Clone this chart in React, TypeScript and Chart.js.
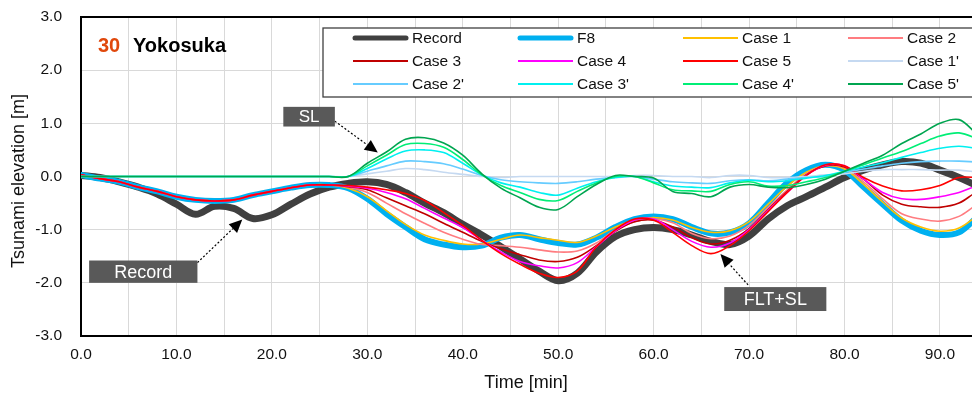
import { useEffect, useRef } from "react";
import { Chart, registerables } from "chart.js";

Chart.register(...registerables);

// ---- data (minutes, metres) ----
const TIME = [0, 2, 4, 6, 8, 10, 12, 14, 16, 18, 20, 22, 24, 26, 28, 30, 32, 34, 36, 38, 40, 42, 44, 46, 48, 50,
  52, 54, 56, 58, 60, 62, 64, 66, 68, 70, 72, 74, 76, 78, 80, 82, 84, 86, 88, 90, 92, 94, 96, 98, 100];

const RECORD = [0.02, -0.02, -0.1, -0.2, -0.33, -0.52, -0.71, -0.56, -0.6, -0.79, -0.72, -0.52, -0.33, -0.2, -0.13,
  -0.1, -0.15, -0.3, -0.5, -0.68, -0.9, -1.1, -1.32, -1.55, -1.78, -1.96, -1.82, -1.42, -1.13, -1.0, -0.96, -1.0,
  -1.1, -1.22, -1.28, -1.12, -0.8, -0.55, -0.38, -0.2, -0.02, 0.12, 0.22, 0.28, 0.25, 0.12, -0.02, -0.18, -0.32,
  -0.42, -0.5];

const F8 = [0.03, -0.04, -0.1, -0.2, -0.28, -0.38, -0.44, -0.46, -0.44, -0.35, -0.28, -0.21, -0.16, -0.16, -0.22,
  -0.42, -0.7, -0.95, -1.18, -1.28, -1.33, -1.3, -1.15, -1.1, -1.18, -1.25, -1.28, -1.15, -0.95, -0.8, -0.75, -0.8,
  -0.95, -1.07, -1.05, -0.88, -0.5, -0.12, 0.12, 0.22, 0.12, -0.2, -0.52, -0.83, -1.02, -1.1, -1.05, -0.75, -0.5,
  -0.35, -0.25];

const CASE_1 = [0.03, -0.04, -0.1, -0.2, -0.28, -0.38, -0.44, -0.46, -0.44, -0.35, -0.28, -0.21, -0.16, -0.16, -0.22,
  -0.38, -0.64, -0.9, -1.1, -1.2, -1.27, -1.27, -1.18, -1.1, -1.15, -1.2, -1.24, -1.12, -0.95, -0.82, -0.77, -0.82,
  -0.96, -1.05, -1.02, -0.85, -0.52, -0.18, 0.08, 0.2, 0.14, -0.15, -0.48, -0.78, -0.95, -1.03, -0.97, -0.73, -0.5,
  -0.35, -0.25];

const CASE_2 = [0.03, -0.04, -0.1, -0.2, -0.28, -0.38, -0.44, -0.46, -0.44, -0.35, -0.28, -0.21, -0.16, -0.16, -0.2,
  -0.3, -0.5, -0.7, -0.88, -1.05, -1.18, -1.28, -1.3, -1.33, -1.38, -1.42, -1.4, -1.25, -1.0, -0.85, -0.8, -0.87,
  -1.07, -1.17, -1.12, -0.92, -0.58, -0.25, 0.05, 0.2, 0.17, -0.1, -0.42, -0.7, -0.8, -0.84, -0.75, -0.52, -0.4,
  -0.3, -0.22];

const CASE_3 = [0.03, -0.04, -0.1, -0.2, -0.28, -0.38, -0.44, -0.46, -0.44, -0.35, -0.28, -0.21, -0.16, -0.16, -0.19,
  -0.25, -0.4, -0.55, -0.7, -0.88, -1.05, -1.22, -1.36, -1.47, -1.57, -1.6, -1.52, -1.3, -1.03, -0.85, -0.82, -0.95,
  -1.15, -1.27, -1.2, -0.98, -0.62, -0.28, 0.03, 0.2, 0.18, -0.05, -0.35, -0.52, -0.57, -0.58, -0.5, -0.28, -0.2,
  -0.15, -0.12];

const CASE_4 = [0.03, -0.04, -0.1, -0.2, -0.28, -0.38, -0.44, -0.46, -0.44, -0.35, -0.28, -0.21, -0.16, -0.16, -0.18,
  -0.22, -0.3, -0.42, -0.6, -0.78, -0.96, -1.2, -1.42, -1.6, -1.68, -1.72, -1.62, -1.32, -1.02, -0.82, -0.8, -1.0,
  -1.22, -1.33, -1.25, -1.0, -0.64, -0.3, 0.02, 0.21, 0.2, -0.05, -0.3, -0.42, -0.43, -0.38, -0.3, -0.17, -0.1,
  -0.08, -0.05];

const CASE_5 = [0.03, -0.04, -0.1, -0.2, -0.28, -0.38, -0.44, -0.46, -0.44, -0.35, -0.28, -0.21, -0.16, -0.16, -0.17,
  -0.2, -0.25, -0.32, -0.45, -0.68, -0.92, -1.2, -1.45, -1.65, -1.82, -1.9, -1.78, -1.32, -1.0, -0.8, -0.82, -1.05,
  -1.3, -1.45, -1.3, -1.02, -0.66, -0.3, 0.02, 0.22, 0.2, -0.02, -0.18, -0.27, -0.25, -0.17, -0.02, -0.02, 0.0,
  0.0, 0.0];

const CASE_1P = [0, 0, 0, 0, 0, 0, 0, 0, 0, 0, 0, 0, 0, 0, 0,
  0.05, 0.1, 0.15, 0.13, 0.08, 0.04, 0.0, -0.02, 0.0, 0.0, 0.0, 0.0, 0.0, 0.0, 0.02, 0.02, 0.0,
  0.0, -0.02, 0.02, 0.02, -0.02, -0.02, 0.0, 0.03, 0.05, 0.1, 0.13, 0.13, 0.13, 0.12, 0.12, 0.08, 0.05,
  0.03, 0.02];

const CASE_2P = [0, 0, 0, 0, 0, 0, 0, 0, 0, 0, 0, 0, 0, 0, 0,
  0.1, 0.2, 0.29, 0.28, 0.24, 0.14, 0.02, -0.06, -0.1, -0.12, -0.13, -0.1, -0.05, -0.02, 0.0, -0.05, -0.1,
  -0.12, -0.13, -0.08, -0.06, -0.08, -0.05, -0.02, 0.0, 0.08, 0.14, 0.2, 0.25, 0.28, 0.29, 0.29, 0.27, 0.22,
  0.18, 0.15];

const CASE_3P = [0, 0, 0, 0, 0, 0, 0, 0, 0, 0, 0, 0, 0, 0, 0,
  0.15, 0.33, 0.48, 0.5, 0.45, 0.25, 0.03, -0.12, -0.2, -0.3, -0.35, -0.22, -0.1, -0.02, 0.0, -0.1, -0.18,
  -0.2, -0.21, -0.12, -0.07, -0.1, -0.08, -0.03, 0.02, 0.1, 0.18, 0.26, 0.36, 0.45, 0.53, 0.57, 0.52, 0.42,
  0.32, 0.22];

const CASE_4P = [0, 0, 0, 0, 0, 0, 0, 0, 0, 0, 0, 0, 0, 0, 0,
  0.2, 0.4, 0.6, 0.62, 0.55, 0.32, 0.03, -0.17, -0.3, -0.43, -0.45, -0.28, -0.12, 0.0, 0.0, -0.12, -0.25,
  -0.27, -0.28, -0.15, -0.1, -0.18, -0.17, -0.1, -0.02, 0.1, 0.22, 0.35, 0.47, 0.62, 0.76, 0.82, 0.7, 0.55,
  0.42, 0.32];

const CASE_5P = [0, 0, 0, 0, 0, 0, 0, 0, 0, 0, 0, 0, 0, 0, 0,
  0.25, 0.46, 0.7, 0.73, 0.63, 0.4, 0.05, -0.22, -0.4, -0.58, -0.62, -0.38, -0.15, 0.02, 0.0, -0.03, -0.28,
  -0.32, -0.38, -0.2, -0.15, -0.2, -0.21, -0.15, -0.05, 0.1, 0.25, 0.4, 0.62, 0.8, 1.0, 1.07, 0.78, 0.55,
  0.35, 0.2];

const SERIES_LABELS = ["Record", "F8", "Case 1", "Case 2", "Case 3", "Case 4", "Case 5",
  "Case 1'", "Case 2'", "Case 3'", "Case 4'", "Case 5'"];
const SERIES_VALUES = [RECORD, F8, CASE_1, CASE_2, CASE_3, CASE_4, CASE_5,
  CASE_1P, CASE_2P, CASE_3P, CASE_4P, CASE_5P];

const Y_MIN = -3;
const Y_MAX = 3;
const X_MIN = 0;
const X_MAX = 94.2;

// ---- styles ----
const COLORS = ["#404040", "#00b0f0", "#ffc000", "#ff7c80", "#c00000", "#ff00ff", "#ff0000",
  "#c5d9f1", "#66ccff", "#00f0f0", "#00ee76", "#00a550"];
const WIDTHS = [7, 6, 1.6, 1.6, 1.6, 1.6, 1.6, 1.6, 1.6, 1.6, 1.6, 1.6];
const FONT = '"Liberation Sans", Arial, Helvetica, sans-serif';

// annotation call-outs, anchored in data units
const NOTES = [
  { text: "SL", box: [21.2, 1.31, 26.6, 0.94], from: [26.6, 1.04], to: [31.1, 0.45], size: 17 },
  { text: "Record", box: [0.85, -1.58, 12.2, -2.0], from: [12.2, -1.62], to: [16.9, -0.81], size: 18 },
  { text: "FLT+SL", box: [67.4, -2.08, 78.1, -2.53], from: [69.9, -2.04], to: [67.0, -1.46], size: 18 },
];

const decorPlugin = {
  id: "decor",
  afterDraw(chart: any) {
    const { ctx, chartArea, scales } = chart;
    const xs = scales.x;
    const ys = scales.y;
    ctx.save();

    // top frame line
    ctx.strokeStyle = "#000";
    ctx.lineWidth = 2;
    ctx.beginPath();
    ctx.moveTo(chartArea.left - 1, chartArea.top);
    ctx.lineTo(chartArea.right + 2, chartArea.top);
    ctx.stroke();

    // axis titles
    ctx.fillStyle = "#111";
    ctx.font = `18px ${FONT}`;
    ctx.textAlign = "center";
    ctx.textBaseline = "middle";
    ctx.fillText("Time [min]", 518, 375);
    ctx.save();
    ctx.translate(11, 173);
    ctx.rotate(-Math.PI / 2);
    ctx.fillText("Tsunami elevation [m]", 0, 0);
    ctx.restore();

    // station label
    ctx.textAlign = "left";
    ctx.textBaseline = "alphabetic";
    ctx.font = `bold 20px ${FONT}`;
    ctx.fillStyle = "#e0480c";
    ctx.fillText("30", 90, 44);
    ctx.fillStyle = "#000";
    ctx.fillText("Yokosuka", 125, 44);

    // legend box
    ctx.fillStyle = "#fff";
    ctx.fillRect(315, 20, 800, 69);
    ctx.strokeStyle = "#404040";
    ctx.lineWidth = 1.3;
    ctx.strokeRect(315, 20, 800, 69);
    ctx.font = `15.5px ${FONT}`;
    ctx.textBaseline = "middle";
    SERIES_LABELS.forEach((lab, i) => {
      const row = Math.floor(i / 4);
      const col = i % 4;
      const ly = 30 + row * 23;
      const lx = 345 + col * 165;
      ctx.strokeStyle = COLORS[i];
      const thick = i < 2;
      ctx.lineWidth = thick ? 5 : 2;
      ctx.lineCap = thick ? "round" : "butt";
      ctx.beginPath();
      ctx.moveTo(lx + (thick ? 2 : 0), ly);
      ctx.lineTo(lx + 55 - (thick ? 2 : 0), ly);
      ctx.stroke();
      ctx.fillStyle = "#111";
      ctx.fillText(lab, lx + 59, ly + 1);
    });
    ctx.lineCap = "butt";

    // call-outs
    NOTES.forEach((n) => {
      const x0 = xs.getPixelForValue(n.box[0]);
      const y0 = ys.getPixelForValue(n.box[1]);
      const x1 = xs.getPixelForValue(n.box[2]);
      const y1 = ys.getPixelForValue(n.box[3]);
      const fx = xs.getPixelForValue(n.from[0]);
      const fy = ys.getPixelForValue(n.from[1]);
      const tx = xs.getPixelForValue(n.to[0]);
      const ty = ys.getPixelForValue(n.to[1]);
      const ang = Math.atan2(ty - fy, tx - fx);
      const head = 13;
      const bx = tx - Math.cos(ang) * head;
      const by = ty - Math.sin(ang) * head;
      ctx.strokeStyle = "#000";
      ctx.lineWidth = 1.2;
      ctx.setLineDash([2, 2]);
      ctx.beginPath();
      ctx.moveTo(fx, fy);
      ctx.lineTo(bx, by);
      ctx.stroke();
      ctx.setLineDash([]);
      ctx.fillStyle = "#000";
      ctx.beginPath();
      ctx.moveTo(tx, ty);
      ctx.lineTo(bx + Math.sin(ang) * 6, by - Math.cos(ang) * 6);
      ctx.lineTo(bx - Math.sin(ang) * 6, by + Math.cos(ang) * 6);
      ctx.closePath();
      ctx.fill();
      ctx.fillStyle = "#595959";
      ctx.fillRect(x0, y0, x1 - x0, y1 - y0);
      ctx.fillStyle = "#fff";
      ctx.font = `${n.size}px ${FONT}`;
      ctx.textAlign = "center";
      ctx.textBaseline = "middle";
      ctx.fillText(n.text, (x0 + x1) / 2, (y0 + y1) / 2 + 1);
    });

    ctx.restore();
  },
};

export default function App() {
  const ref = useRef<HTMLCanvasElement>(null);

  useEffect(() => {
    if (!ref.current) return;
    const datasets = SERIES_LABELS.map((label, i) => ({
      label,
      data: TIME.map((t, k) => ({ x: t, y: SERIES_VALUES[i][k] })),
      borderColor: COLORS[i],
      backgroundColor: COLORS[i],
      borderWidth: WIDTHS[i],
      pointRadius: 0,
      tension: 0.35,
      borderJoinStyle: "round" as const,
      borderCapStyle: "round" as const,
      order: SERIES_LABELS.length - i,
      clip: { left: 0, right: 0, top: 4, bottom: 4 },
    }));

    const chart = new Chart(ref.current, {
      type: "line",
      data: { datasets },
      plugins: [decorPlugin],
      options: {
        animation: false,
        responsive: false,
        devicePixelRatio: 1,
        layout: { padding: { top: 9, left: 0, right: 0, bottom: 0 } },
        plugins: { legend: { display: false }, tooltip: { enabled: false }, title: { display: false } },
        scales: {
          x: {
            type: "linear",
            min: X_MIN,
            max: X_MAX,
            afterFit: (s: any) => { s.height = 61; s.paddingRight = 0; },
            grid: { color: "#d9d9d9", lineWidth: 1, drawTicks: false },
            border: { display: true, color: "#000", width: 2 },
            ticks: {
              stepSize: 5,
              includeBounds: false,
              autoSkip: false,
              maxRotation: 0,
              padding: 9,
              color: "#111",
              font: { family: FONT, size: 15.5 },
              callback: (v: any) => (Number(v) % 10 === 0 ? Number(v).toFixed(1) : ""),
            },
          },
          y: {
            min: Y_MIN,
            max: Y_MAX,
            afterFit: (s: any) => { s.width = 73; s.paddingTop = 0; s.paddingBottom = 0; },
            grid: { color: "#d9d9d9", lineWidth: 1, drawTicks: false },
            border: { display: true, color: "#000", width: 2 },
            ticks: {
              stepSize: 1,
              padding: 19,
              color: "#111",
              font: { family: FONT, size: 15.5, lineHeight: 1 },
              callback: (v: any) => Number(v).toFixed(1),
            },
          },
        },
      },
    });
    return () => chart.destroy();
  }, []);

  return (
    <div style={{ width: 972, height: 389, overflow: "hidden" }}>
      <canvas ref={ref} width={972} height={389} style={{ display: "block", width: 972, height: 389 }} />
    </div>
  );
}
